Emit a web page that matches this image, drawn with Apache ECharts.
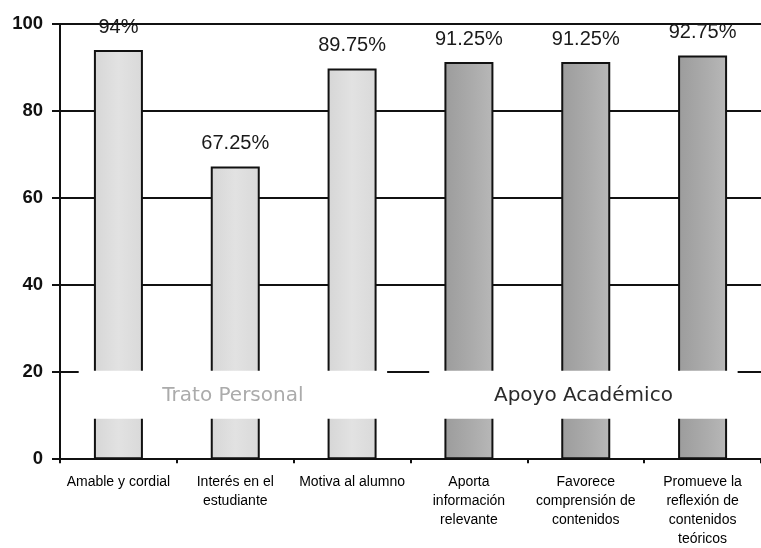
<!DOCTYPE html>
<html>
<head>
<meta charset="utf-8">
<script src="https://cdn.jsdelivr.net/npm/echarts@6/dist/echarts.min.js"></script>
<style>
  html, body { margin: 0; padding: 0; background: #ffffff; }
  #chart { width: 761px; height: 548px; }
</style>
</head>
<body>
<div id="chart"></div>
<script>
// Evaluation items, grouped in two blocks
const categories = [
  'Amable y cordial',
  'Interés en el\nestudiante',
  'Motiva al alumno',
  'Aporta\ninformación\nrelevante',
  'Favorece\ncomprensión de\ncontenidos',
  'Promueve la\nreflexión de\ncontenidos\nteóricos'
];
const values = [94, 67.25, 89.75, 91.25, 91.25, 92.75];
const groupNames = ['Trato Personal', 'Apoyo Académico'];
const groupOfItem = [0, 0, 0, 1, 1, 1];
const yMin = 0, yMax = 100, yStep = 20;
// Band where the group captions sit (in axis units)
const bandLow = 9.3, bandHigh = 20.3;

const fills = [
  { type: 'linear', x: 0, y: 0, x2: 1, y2: 0,
    colorStops: [{ offset: 0, color: '#d6d6d6' }, { offset: 0.5, color: '#e2e2e2' }, { offset: 1, color: '#d9d9d9' }] },
  { type: 'linear', x: 0, y: 0, x2: 1, y2: 0,
    colorStops: [{ offset: 0, color: '#9c9c9c' }, { offset: 0.6, color: '#acacac' }, { offset: 1, color: '#b8b8b8' }] }
];
const captionColors = ['#ababab', '#2a2a2a'];

const chart = echarts.init(document.getElementById('chart'), null, { renderer: 'canvas' });

chart.setOption({
  animation: false,
  backgroundColor: '#ffffff',
  grid: { left: 60, top: 24, width: 711, height: 439, containLabel: false },
  xAxis: {
    type: 'category',
    data: categories,
    axisLine: { show: true, lineStyle: { color: '#111', width: 2 } },
    axisTick: { show: true, length: 4, lineStyle: { color: '#111', width: 2 } },
    axisLabel: {
      interval: 0,
      color: '#000',
      fontFamily: 'Liberation Sans, Arial, sans-serif',
      fontSize: 14,
      lineHeight: 18.7,
      margin: 14
    },
    splitLine: { show: false }
  },
  yAxis: {
    type: 'value',
    min: yMin, max: yMax, interval: yStep,
    axisLine: { show: true, lineStyle: { color: '#111', width: 2 } },
    axisTick: { show: true, length: 8, lineStyle: { color: '#111', width: 2 } },
    axisLabel: {
      color: '#111',
      fontFamily: 'Liberation Sans, Arial, sans-serif',
      fontSize: 18.5,
      fontWeight: 'bold',
      margin: 17
    },
    splitLine: { show: true, lineStyle: { color: '#111', width: 2 } }
  },
  series: [{
    type: 'bar',
    barWidth: 49,
    data: values.map((v, i) => ({
      value: v,
      itemStyle: { color: fills[groupOfItem[i]] }
    })),
    itemStyle: { borderColor: '#111', borderWidth: 2 },
    label: {
      show: true,
      position: 'top',
      distance: 13,
      formatter: '{c}%',
      color: '#1a1a1a',
      fontFamily: 'Liberation Sans, Arial, sans-serif',
      fontSize: 20
    }
  }]
});

// White caption bands laid over the bars, one per group
function placeCaptions() {
  const catW = chart.convertToPixel({ xAxisIndex: 0 }, 1) - chart.convertToPixel({ xAxisIndex: 0 }, 0);
  const yTop = chart.convertToPixel({ yAxisIndex: 0 }, bandHigh);
  const yBot = chart.convertToPixel({ yAxisIndex: 0 }, bandLow);
  const elements = [];
  groupNames.forEach((name, g) => {
    const idx = groupOfItem.map((gg, i) => gg === g ? i : -1).filter(i => i >= 0);
    const first = idx[0], last = idx[idx.length - 1];
    const x0 = chart.convertToPixel({ xAxisIndex: 0 }, first) - catW / 2 + catW * 0.16;
    const x1 = chart.convertToPixel({ xAxisIndex: 0 }, last) + catW / 2 - catW * 0.2;
    elements.push({
      type: 'rect',
      z: 100,
      shape: { x: x0, y: yTop, width: x1 - x0, height: yBot - yTop },
      style: { fill: '#ffffff' }
    });
    elements.push({
      type: 'text',
      z: 101,
      x: (x0 + x1) / 2,
      y: (yTop + yBot) / 2 + 1,
      style: {
        text: name,
        fill: captionColors[g],
        font: '20px "DejaVu Sans", Verdana, sans-serif',
        align: 'center',
        verticalAlign: 'middle'
      }
    });
  });
  chart.setOption({ graphic: { elements: elements } });
}
placeCaptions();
</script>
</body>
</html>
